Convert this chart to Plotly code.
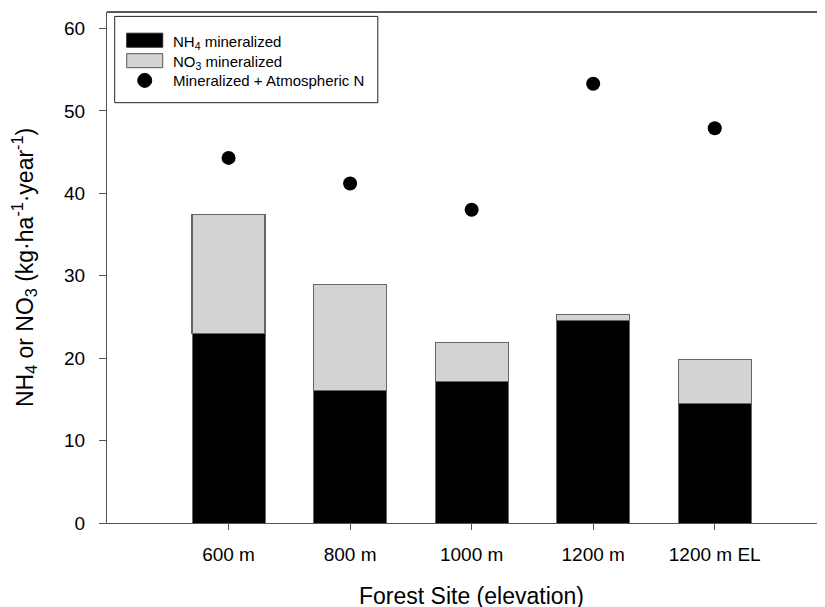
import plotly.graph_objects as go

sites = ["600 m", "800 m", "1000 m", "1200 m", "1200 m EL"]
nh4 = [23.0, 16.1, 17.2, 24.6, 14.5]
no3 = [14.4, 12.8, 4.7, 0.7, 5.3]
min_plus_atm = [44.3, 41.2, 38.0, 53.3, 47.9]
positions = [1, 2, 3, 4, 5]

# the page body adds an 8px offset; compensate so the figure fills the 825x607 window
OFF = 8
W, H = 825 - OFF, 607 - OFF
L, T, B = 107.3 - OFF, 12.3 - OFF, 523.3 - OFF
R = W
PW, PH = R - L, B - T

def px(xp):
    return (xp - OFF - L) / PW

def py(yp):
    return (B - (yp - OFF)) / PH

FONT = "Liberation Sans, Arial, sans-serif"
AX = "#555555"

fig = go.Figure()
fig.add_trace(go.Bar(x=positions, y=nh4, name="NH<sub>4</sub> mineralized",
                     marker=dict(color="black", line=dict(color="#666666", width=1)),
                     width=0.6, showlegend=False))
fig.add_trace(go.Bar(x=positions, y=no3, name="NO<sub>3</sub> mineralized",
                     marker=dict(color="#d3d3d3", line=dict(color="#666666", width=1.2)),
                     width=0.6, showlegend=False))
fig.add_trace(go.Scatter(x=positions, y=min_plus_atm, mode="markers",
                         name="Mineralized + Atmospheric N",
                         marker=dict(color="black", size=14), showlegend=False))

shapes = []
annotations = []
# top frame line
shapes.append(dict(type="line", xref="paper", yref="paper", x0=0, x1=1, y0=1, y1=1,
                   line=dict(color="#222222", width=1.3)))
# legend box
shapes.append(dict(type="rect", xref="paper", yref="paper", x0=px(115), x1=px(378),
                   y0=py(103), y1=py(16.7), line=dict(color="#222222", width=1), fillcolor="white"))
shapes.append(dict(type="rect", xref="paper", yref="paper", x0=px(127), x1=px(163),
                   y0=py(47.5), y1=py(33.5), line=dict(color="#222222", width=1), fillcolor="black"))
shapes.append(dict(type="rect", xref="paper", yref="paper", x0=px(127), x1=px(163),
                   y0=py(68), y1=py(54), line=dict(color="#555555", width=1), fillcolor="#d3d3d3"))
shapes.append(dict(type="circle", xref="paper", yref="paper", x0=px(138), x1=px(152),
                   y0=py(87.7), y1=py(73.7), line=dict(color="black", width=1), fillcolor="black"))

legend_texts = ["NH<sub>4</sub> mineralized", "NO<sub>3</sub> mineralized", "Mineralized + Atmospheric N"]
legend_y = [42.5, 63, 81]
for txt, yy in zip(legend_texts, legend_y):
    annotations.append(dict(text=txt, xref="paper", yref="paper", x=px(171), y=py(yy),
                            xanchor="left", yanchor="middle", showarrow=False,
                            font=dict(family=FONT, size=15, color="black")))

# x title
annotations.append(dict(text="Forest Site (elevation)", xref="x", yref="paper", x=3, y=py(596),
                        xanchor="center", yanchor="middle", showarrow=False,
                        font=dict(family=FONT, size=23, color="black")))

fig.update_layout(
    width=W, height=H,
    margin=dict(l=L, r=0, t=T, b=H - B, pad=0),
    paper_bgcolor="white", plot_bgcolor="white",
    barmode="stack", showlegend=False,
    font=dict(family=FONT, color="black"),
    shapes=shapes, annotations=annotations,
    xaxis=dict(range=[0, PW / 121.5], tickmode="array", tickvals=positions, ticktext=sites,
               showline=True, linecolor=AX, linewidth=1.3, ticks="outside", ticklen=6,
               tickcolor=AX, tickwidth=1.3, showgrid=False, zeroline=False,
               tickfont=dict(family=FONT, size=19, color="black"), ticklabelstandoff=8),
    yaxis=dict(range=[0, 62], tickmode="array", tickvals=[0, 10, 20, 30, 40, 50, 60],
               showline=True, linecolor=AX, linewidth=1.3, ticks="outside", ticklen=7,
               tickcolor=AX, tickwidth=1.3, showgrid=False, zeroline=False,
               tickfont=dict(family=FONT, size=19, color="black"), ticklabelstandoff=10,
               title=dict(text="NH<sub>4</sub> or NO<sub>3</sub> (kg·ha<sup>-1</sup>·year<sup>-1</sup>)",
                          font=dict(family=FONT, size=23, color="black"), standoff=26)),
)

fig.write_html("out.html")
